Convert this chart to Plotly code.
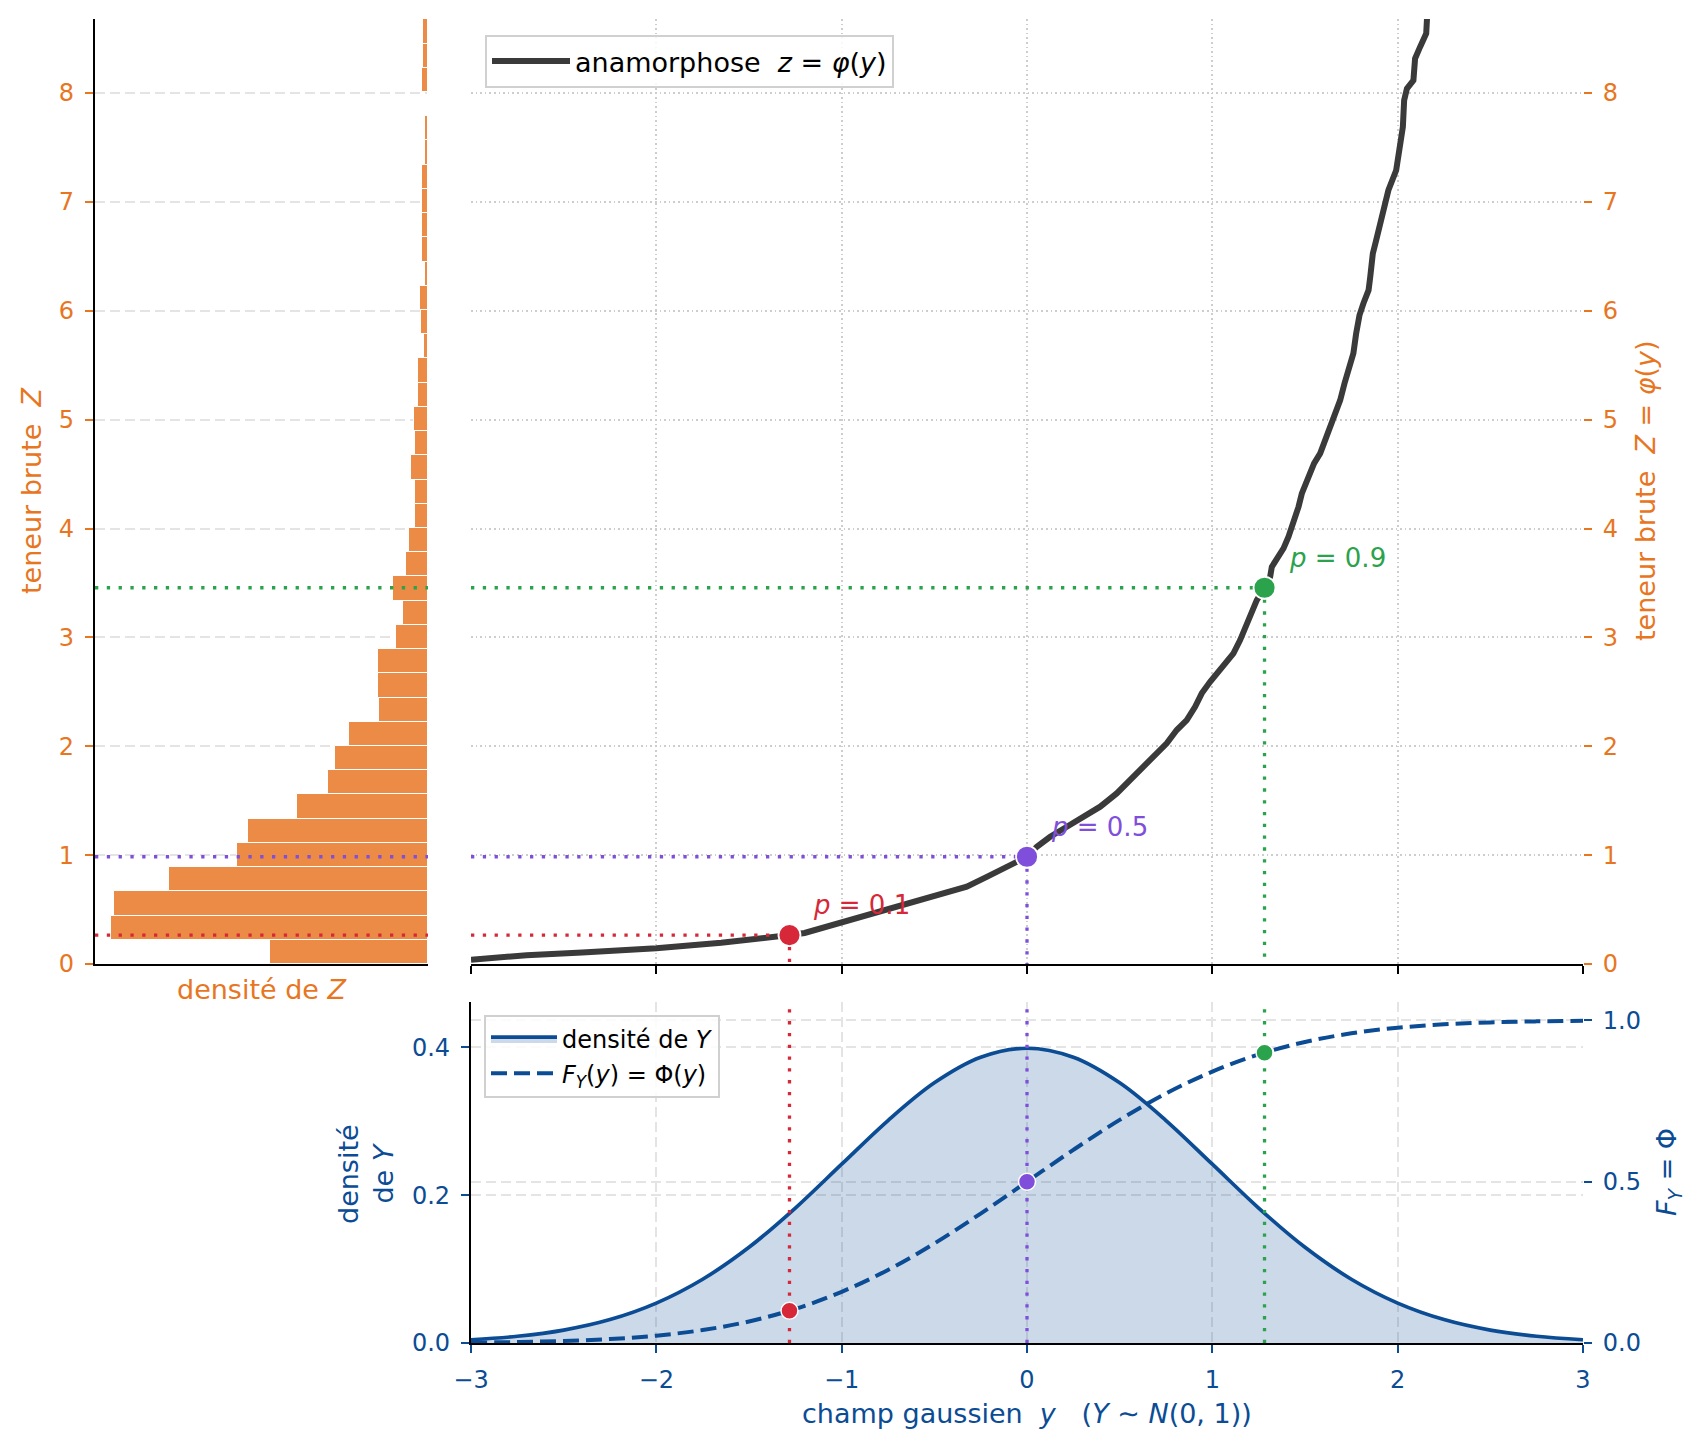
import plotly.graph_objects as go

W, H = 1702, 1450

ORANGE = "#E8761F"
BAR = "#EB8B45"
BLUE = "#0B4C94"
CURVE = "#3A3A3A"
Q_COLORS = ["#D62839", "#7F4FDC", "#2BA24C"]
FONT = "DejaVu Sans"

# ---------------- data ----------------
# empirical anamorphosis  z = phi(y)
y_anam = [-3.0, -2.7, -2.4, -2.0, -1.65, -1.37, -1.2816, -1.2, -1.0, -0.865,
          -0.685, -0.505, -0.325, -0.217, -0.073, 0.0, 0.053, 0.125, 0.215, 0.304,
          0.395, 0.484, 0.538, 0.592, 0.646, 0.700, 0.754, 0.808, 0.862, 0.907,
          0.943, 0.988, 1.024, 1.069, 1.114, 1.150, 1.186, 1.213, 1.240, 1.2816,
          1.312, 1.321, 1.348, 1.384, 1.411, 1.438, 1.465, 1.483, 1.519, 1.549,
          1.582, 1.609, 1.636, 1.663, 1.690, 1.713, 1.740, 1.761, 1.776, 1.794,
          1.815, 1.843, 1.852, 1.866, 1.884, 1.906, 1.933, 1.950, 1.992, 2.004,
          2.028, 2.035, 2.050, 2.085, 2.094, 2.121, 2.154, 2.158, 2.175]
z_anam = [0.04, 0.08, 0.105, 0.145, 0.195, 0.24, 0.266, 0.285, 0.385, 0.45,
          0.54, 0.62, 0.71, 0.80, 0.925, 0.985, 1.077, 1.169, 1.261, 1.353,
          1.445, 1.567, 1.659, 1.751, 1.843, 1.935, 2.027, 2.149, 2.241, 2.363,
          2.486, 2.592, 2.669, 2.776, 2.853, 2.975, 3.129, 3.251, 3.343, 3.456,
          3.557, 3.648, 3.725, 3.817, 3.924, 4.047, 4.199, 4.322, 4.475, 4.598,
          4.690, 4.812, 4.965, 5.087, 5.179, 5.332, 5.485, 5.608, 5.791, 5.960,
          6.067, 6.189, 6.311, 6.526, 6.648, 6.801, 6.985, 7.107, 7.291, 7.444,
          7.689, 7.934, 8.041, 8.117, 8.317, 8.424, 8.546, 8.675, 8.95]

# histogram of Z (density per bin)
z_bin_start = 0.0
z_bin_width = 0.2225
z_density = [0.314, 0.630, 0.624, 0.514, 0.379, 0.358, 0.261, 0.198, 0.184, 0.156,
             0.097, 0.099, 0.099, 0.064, 0.050, 0.070, 0.044, 0.038, 0.026, 0.026,
             0.034, 0.026, 0.028, 0.020, 0.020, 0.0085, 0.0144, 0.0164, 0.0065, 0.0124,
             0.0124, 0.0124, 0.0124, 0.0065, 0.0065, 0.0, 0.0124, 0.0105, 0.0105]

# quantiles
p_levels = [0.1, 0.5, 0.9]
p_labels = ["0.1", "0.5", "0.9"]
y_quant = [-1.2816, 0.0, 1.2816]
z_quant = [0.266, 0.985, 3.456]

# Gaussian density and cdf of Y
y_grid = [-3.0, -2.75, -2.5, -2.25, -2.0, -1.75, -1.5, -1.25, -1.0, -0.75, -0.5, -0.25, 0.0,
          0.25, 0.5, 0.75, 1.0, 1.25, 1.5, 1.75, 2.0, 2.25, 2.5, 2.75, 3.0]
pdf_vals = [0.0044, 0.0091, 0.0175, 0.0317, 0.0540, 0.0863, 0.1295, 0.1826, 0.2420, 0.3011,
            0.3521, 0.3867, 0.3989, 0.3867, 0.3521, 0.3011, 0.2420, 0.1826, 0.1295, 0.0863,
            0.0540, 0.0317, 0.0175, 0.0091, 0.0044]
cdf_vals = [0.0013, 0.0030, 0.0062, 0.0122, 0.0228, 0.0401, 0.0668, 0.1056, 0.1587, 0.2266,
            0.3085, 0.4013, 0.5000, 0.5987, 0.6915, 0.7734, 0.8413, 0.8944, 0.9332, 0.9599,
            0.9772, 0.9878, 0.9938, 0.9970, 0.9987]

x_ticks = [-3, -2, -1, 0, 1, 2, 3]
z_ticks = [0, 1, 2, 3, 4, 5, 6, 7, 8]
pdf_ticks = [0.0, 0.2, 0.4]
cdf_ticks = [0.0, 0.5, 1.0]

# ---------------- layout helpers ----------------
def px_x(p):
    return p / W

def px_y(p):
    return 1 - p / H

Z_MAX = 8.68
PDF_MAX = 0.4615
CDF_MAX = 1.057
DENS_MAX = max(z_density) * 1.05
Y_MIN, Y_MAX = -3, 3

top_dom = [px_y(964), px_y(19)]
bot_dom = [px_y(1343), px_y(1002)]
hist_dom = [px_x(95), px_x(428)]
main_dom = [px_x(471), px_x(1583)]

DOT = "3.3px,8.5px"
TICK_SIZE = 24

fig = go.Figure()

# histogram (horizontal bars)
z_centers = [z_bin_start + (k + 0.5) * z_bin_width for k in range(len(z_density))]
fig.add_trace(go.Bar(
    x=z_density, y=z_centers, orientation="h", width=z_bin_width,
    marker=dict(color=BAR, line=dict(color="white", width=1)),
    xaxis="x", yaxis="y", showlegend=False, hoverinfo="skip"))

for zq, c in zip(z_quant, Q_COLORS):
    fig.add_trace(go.Scatter(
        x=[DENS_MAX, 0], y=[zq, zq], mode="lines",
        line=dict(color=c, width=3.3, dash=DOT),
        xaxis="x", yaxis="y", showlegend=False, hoverinfo="skip"))

# anamorphosis curve
fig.add_trace(go.Scatter(
    x=y_anam, y=z_anam, mode="lines", line=dict(color=CURVE, width=6),
    name="anamorphose\u00a0\u00a0<i>z</i> = <i>φ</i>(<i>y</i>)",
    xaxis="x2", yaxis="y2", legend="legend", cliponaxis=True))

for yq, zq, c in zip(y_quant, z_quant, Q_COLORS):
    fig.add_trace(go.Scatter(
        x=[Y_MIN, yq], y=[zq, zq], mode="lines",
        line=dict(color=c, width=3.3, dash=DOT),
        xaxis="x2", yaxis="y2", showlegend=False, hoverinfo="skip"))
    fig.add_trace(go.Scatter(
        x=[yq, yq], y=[zq, 0], mode="lines",
        line=dict(color=c, width=3.3, dash=DOT),
        xaxis="x2", yaxis="y2", showlegend=False, hoverinfo="skip"))

fig.add_trace(go.Scatter(
    x=y_quant, y=z_quant, mode="markers",
    marker=dict(color=Q_COLORS, size=22, line=dict(color="white", width=1.8)),
    xaxis="x2", yaxis="y2", showlegend=False, cliponaxis=False))

# bottom panel: density + cdf
fig.add_trace(go.Scatter(
    x=y_grid, y=pdf_vals, mode="lines", line=dict(color=BLUE, width=3.7, shape="spline"),
    fill="tozeroy", fillcolor="rgba(11,76,148,0.21)",
    name="densité de <i>Y</i>", xaxis="x3", yaxis="y4", legend="legend2"))

fig.add_trace(go.Scatter(
    x=y_grid, y=cdf_vals, mode="lines",
    line=dict(color=BLUE, width=4, dash="16px,7px", shape="spline"),
    name="<i>F</i><sub><i>Y</i></sub>(<i>y</i>) = Φ(<i>y</i>)",
    xaxis="x3", yaxis="y5", legend="legend2"))

for yq, c in zip(y_quant, Q_COLORS):
    fig.add_trace(go.Scatter(
        x=[yq, yq], y=[0, CDF_MAX], mode="lines",
        line=dict(color=c, width=3.3, dash=DOT),
        xaxis="x3", yaxis="y5", showlegend=False, hoverinfo="skip"))

fig.add_trace(go.Scatter(
    x=y_quant, y=p_levels, mode="markers",
    marker=dict(color=Q_COLORS, size=17, line=dict(color="white", width=1.5)),
    xaxis="x3", yaxis="y5", showlegend=False, cliponaxis=False))

# ---------------- axes ----------------
tick_common = dict(ticks="outside", ticklen=8, tickwidth=2, zeroline=False,
                   ticklabelstandoff=6, automargin=False)
DASH_GRID = dict(showgrid=True, gridcolor="#e4e4e4", gridwidth=1.6, griddash="10px,5px")
DOT_GRID = dict(showgrid=True, gridcolor="#cdcdcd", gridwidth=1.6, griddash="1.6px,3px")

fig.update_layout(
    width=W, height=H, autosize=False,
    margin=dict(l=0, r=0, t=0, b=0, pad=0),
    paper_bgcolor="white", plot_bgcolor="rgba(0,0,0,0)",
    font=dict(family=FONT, size=TICK_SIZE, color="black"),
    bargap=0,
    xaxis=dict(domain=hist_dom, range=[DENS_MAX, 0], anchor="y", automargin=False,
               showticklabels=False, ticks="", showgrid=False, zeroline=False,
               showline=True, linecolor="black", linewidth=2.2),
    yaxis=dict(domain=top_dom, range=[0, Z_MAX], anchor="x", tickvals=z_ticks,
               tickcolor=ORANGE, tickfont=dict(color=ORANGE, size=TICK_SIZE),
               showline=True, linecolor="black", linewidth=2.2,
               **tick_common, **DASH_GRID),
    xaxis2=dict(domain=main_dom, range=[Y_MIN, Y_MAX], anchor="y2", tickvals=x_ticks,
                tickcolor="black", showticklabels=False,
                showline=True, linecolor="black", linewidth=2.2,
                **tick_common, **DOT_GRID),
    yaxis2=dict(domain=top_dom, range=[0, Z_MAX], anchor="x2", side="right",
                tickvals=z_ticks, tickcolor=ORANGE,
                tickfont=dict(color=ORANGE, size=TICK_SIZE),
                showline=False, **tick_common, **DOT_GRID),
    yaxis3=dict(overlaying="y2", anchor="x2", side="left", range=[0, Z_MAX],
                showline=True, linecolor="black", linewidth=2.2, automargin=False,
                showticklabels=False, ticks="", showgrid=False, zeroline=False),
    xaxis3=dict(domain=main_dom, range=[Y_MIN, Y_MAX], anchor="y4", tickvals=x_ticks,
                tickcolor=BLUE, tickfont=dict(color=BLUE, size=TICK_SIZE),
                showline=True, linecolor="black", linewidth=2.2,
                **tick_common, **DASH_GRID),
    yaxis4=dict(domain=bot_dom, range=[0, PDF_MAX], anchor="x3", tickvals=pdf_ticks,
                tickformat=".1f", tickcolor=BLUE,
                tickfont=dict(color=BLUE, size=TICK_SIZE),
                showline=True, linecolor="black", linewidth=2.2,
                **tick_common, **DASH_GRID),
    yaxis5=dict(overlaying="y4", anchor="x3", side="right", range=[0, CDF_MAX],
                tickvals=cdf_ticks, tickformat=".1f", tickcolor=BLUE,
                tickfont=dict(color=BLUE, size=TICK_SIZE), showline=False,
                **tick_common, **DASH_GRID),
    legend=dict(x=px_x(485), y=px_y(35), xanchor="left", yanchor="top",
                bgcolor="rgba(255,255,255,0.85)", bordercolor="#d0d0d0", borderwidth=2,
                font=dict(family=FONT, size=27, color="black"), itemwidth=78),
    legend2=dict(x=px_x(484), y=px_y(1015), xanchor="left", yanchor="top",
                 bgcolor="rgba(255,255,255,0.85)", bordercolor="#d0d0d0", borderwidth=2,
                 font=dict(family=FONT, size=24, color="black"), itemwidth=66,
                 tracegroupgap=2),
)

# p labels
for yq, zq, c, lab in zip(y_quant, z_quant, Q_COLORS, p_labels):
    fig.add_annotation(x=yq, y=zq, xref="x2", yref="y2", text=f"<i>p</i> = {lab}",
                       showarrow=False, xanchor="left", yanchor="bottom",
                       xshift=22, yshift=13, font=dict(family=FONT, size=26, color=c))

# axis titles
TITLE_SIZE = 27
titles = [
    dict(x=px_x(31), y=px_y(491), text="teneur brute\u00a0\u00a0<i>Z</i>", textangle=-90, color=ORANGE),
    dict(x=px_x(1645), y=px_y(491), text="teneur brute\u00a0\u00a0<i>Z</i> = <i>φ</i>(<i>y</i>)", textangle=-90, color=ORANGE),
    dict(x=px_x(262), y=px_y(989), text="densité de <i>Z</i>", textangle=0, color=ORANGE),
    dict(x=px_x(366), y=px_y(1174), text="densité<br>de <i>Y</i>", textangle=-90, color=BLUE),
    dict(x=px_x(1668), y=px_y(1172), text="<i>F</i><sub><i>Y</i></sub> = Φ", textangle=-90, color=BLUE),
    dict(x=px_x(1027), y=px_y(1413), text="champ gaussien\u00a0\u00a0<i>y</i>\u00a0\u00a0\u00a0(<i>Y</i> ∼ <i>N</i>(0, 1))", textangle=0, color=BLUE),
]
for t in titles:
    fig.add_annotation(x=t["x"], y=t["y"], xref="paper", yref="paper", text=t["text"],
                       textangle=t["textangle"], showarrow=False,
                       xanchor="center", yanchor="middle",
                       font=dict(family=FONT, size=TITLE_SIZE, color=t["color"]))

fig.write_html("out.html", config={"displayModeBar": False},
               post_script="document.body.style.margin='0px';document.body.style.padding='0px';")
